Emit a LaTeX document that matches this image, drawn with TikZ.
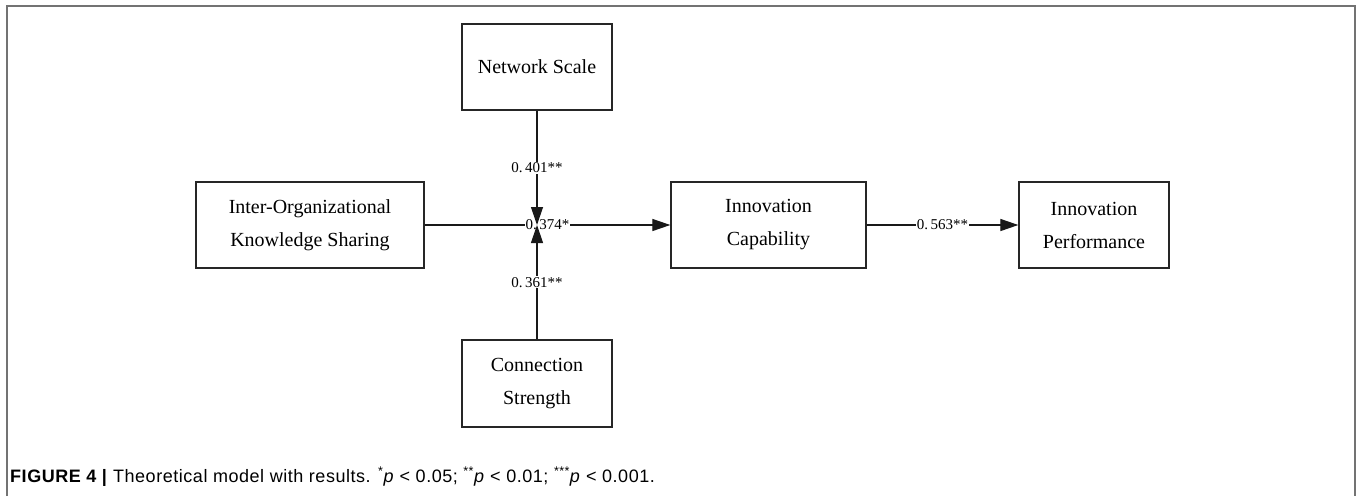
\documentclass[tikz,border=0pt]{standalone}
\usepackage{fontspec}
\setmainfont{Liberation Serif}
\newfontfamily\capfont[LetterSpace=3]{Liberation Sans}
\usetikzlibrary{arrows.meta}
\begin{document}
\begin{tikzpicture}[x=1pt,y=-1pt,
  box/.style={draw=black!85,line width=1.3pt,align=center,inner sep=0pt,
    font=\fontsize{20}{33}\selectfont},
  conn/.style={line width=1.2pt,draw=black!90},
  arr/.style={conn,-{Triangle[length=18pt,width=12pt]}},
  lab/.style={fill=white,inner sep=1pt,font=\fontsize{15}{15}\selectfont},
  frame/.style={draw=black!55,line width=2pt}]
\useasboundingbox (0,0) rectangle (1357,496);
\draw[frame] (7,496) -- (7,6) -- (1355,6) -- (1355,496);
\node[box,minimum width=228pt,minimum height=86pt] (ks) at (310,225) {Inter-Organizational\\Knowledge Sharing};
\node[box,minimum width=150pt,minimum height=86pt] (ns) at (537,67) {Network Scale};
\node[box,minimum width=150pt,minimum height=87pt] (cs) at (537,383.5) {Connection\\Strength};
\node[box,minimum width=195pt,minimum height=86pt] (ic) at (768.5,225) {Innovation\\Capability};
\node[box,minimum width=150pt,minimum height=86pt] (ip) at (1094,225) {Innovation\\Performance};
\coordinate (j) at (537,225);
\draw[arr] (ks.east) -- node[lab] {0.\,374*} (ic.west);
\draw[arr] (ns.south) -- node[lab] {0.\,401**} (j);
\draw[arr] (cs.north) -- node[lab] {0.\,361**} (j);
\draw[arr] (ic.east) -- node[lab] {0.\,563**} (ip.west);
\node[anchor=base west,inner sep=0pt,font=\capfont\fontsize{18}{18}\selectfont] (cap) at (10,482)
  {\textbf{FIGURE 4 |} Theoretical model with results. \textsuperscript{*}\textit{p} < 0.05; \textsuperscript{**}\textit{p} < 0.01; \textsuperscript{***}\textit{p} < 0.001.};
\end{tikzpicture}
\end{document}
